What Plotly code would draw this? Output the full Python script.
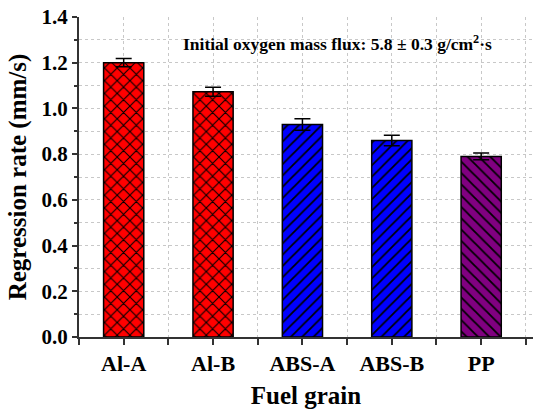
import plotly.graph_objects as go

# Fuel grain regression rates with error margins
grains = ["Al-A", "Al-B", "ABS-A", "ABS-B", "PP"]
positions = [1, 2, 3, 4, 5]
rates = [1.20, 1.073, 0.930, 0.860, 0.790]
errors = [0.018, 0.02, 0.025, 0.023, 0.015]

fill_colors = ["#FF0000", "#FF0000", "#0000FF", "#0000FF", "#800080"]
hatches = ["x", "x", "/", "/", "\\"]
hatch_sizes = [9, 9, 8, 8, 8]

FONT = "Times New Roman, Liberation Serif, serif"

fig = go.Figure()
# one trace per grain so every bar gets its own hatch style
for pos, rate, err, col, shp, hs in zip(positions, rates, errors,
                                          fill_colors, hatches, hatch_sizes):
    fig.add_trace(go.Bar(
        x=[pos],
        y=[rate],
        width=0.45,
        marker=dict(
            color=col,
            line=dict(color="black", width=1.5),
            pattern=dict(
                shape=shp,
                fillmode="overlay",
                bgcolor=col,
                fgcolor="black",
                fgopacity=1,
                size=hs,
                solidity=0.22,
            ),
        ),
        error_y=dict(type="data", array=[err], visible=True,
                     color="black", thickness=1.5, width=8),
        showlegend=False,
    ))

fig.add_annotation(
    x=0.57, y=1.286, xref="paper", yref="y",
    text="<b>Initial oxygen mass flux: 5.8 ± 0.3 g/cm<sup>2</sup>·s</b>",
    showarrow=False,
    font=dict(family=FONT, size=17.5, color="black"),
)

grid_style = dict(gridcolor="#c8c8c8", griddash="dot", gridwidth=1)

fig.update_layout(
    width=533, height=410,
    margin=dict(l=79, r=0, t=17, b=73),
    plot_bgcolor="white",
    paper_bgcolor="white",
    font=dict(family=FONT, color="black"),
    barmode="overlay",
    xaxis=dict(
        range=[0.5, 5.58],
        tickvals=positions,
        ticktext=[f"<b>{g}</b>" for g in grains],
        tickfont=dict(family=FONT, size=22, color="black"),
        ticks="outside", ticklen=6, tickwidth=1.5, tickcolor="#333",
        showline=True, linecolor="#333", linewidth=2,
        showgrid=True, **grid_style,
        minor=dict(tick0=0.5, dtick=0.5, ticks="outside", ticklen=6,
                   tickwidth=1.5, tickcolor="#333", showgrid=True,
                   gridcolor="#c8c8c8", griddash="dot"),
        title=dict(text="<b>Fuel grain</b>",
                   font=dict(family=FONT, size=25, color="black"),
                   standoff=11),
        zeroline=False,
    ),
    yaxis=dict(
        range=[0, 1.4],
        tick0=0, dtick=0.2,
        tickformat=".1f",
        tickprefix="<b>", ticksuffix="</b>",
        tickfont=dict(family=FONT, size=21, color="black"),
        ticks="outside", ticklen=5, tickwidth=1.5, tickcolor="#333",
        showline=True, linecolor="#333", linewidth=2,
        showgrid=True, **grid_style,
        minor=dict(dtick=0.1, ticks="outside", ticklen=3,
                   tickwidth=1.5, tickcolor="#333", showgrid=True,
                   gridcolor="#c8c8c8", griddash="dot"),
        title=dict(text="<b>Regression rate (mm/s)</b>",
                   font=dict(family=FONT, size=25, color="black"),
                   standoff=8),
        zeroline=False,
    ),
)

fig.write_html("out.html")
